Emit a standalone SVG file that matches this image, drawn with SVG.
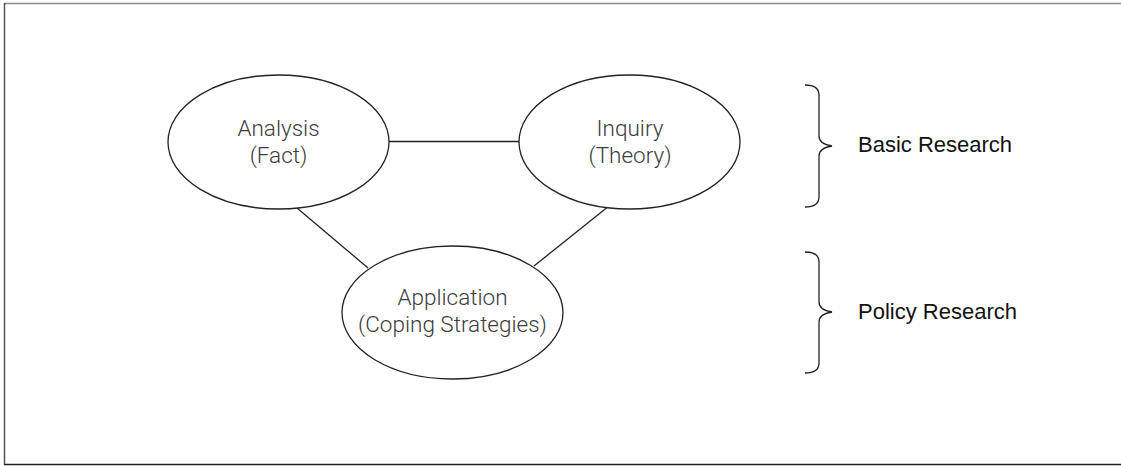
<svg xmlns="http://www.w3.org/2000/svg" width="1121" height="466" viewBox="0 0 1121 466">
<style>
.node ellipse{fill:#fff;stroke:#222;stroke-width:1.3}
.node text{font-family:Roboto,"Liberation Sans",sans-serif;font-weight:300;font-size:22.5px;fill:#3c3c3c;text-anchor:middle}
.conn line{stroke:#222;stroke-width:1.3}
.brace{fill:none;stroke:#222;stroke-width:1.3}
.label{font-family:"Liberation Sans",Arial,sans-serif;font-size:22px;fill:#111}
</style>
<rect width="1121" height="466" fill="#fff"/>
<g id="frame">
<line x1="4" y1="3.5" x2="1121" y2="3.5" stroke="#888" stroke-width="1.5"/>
<line x1="4.5" y1="3" x2="4.5" y2="465" stroke="#555" stroke-width="1.5"/>
<line x1="4" y1="464.5" x2="1121" y2="464.5" stroke="#222" stroke-width="1.5"/>
</g>
<g id="connectors" class="conn">
<line x1="389" y1="141.5" x2="519" y2="141.5"/>
<line x1="297" y1="208" x2="368" y2="268"/>
<line x1="609" y1="206" x2="534" y2="266"/>
</g>
<g id="analysis" class="node">
<ellipse cx="278.5" cy="142" rx="110.5" ry="67"/>
<text x="278.5" y="136">Analysis</text>
<text x="278.5" y="163">(Fact)</text>
</g>
<g id="inquiry" class="node">
<ellipse cx="629.5" cy="142" rx="110.5" ry="67"/>
<text x="630" y="136">Inquiry</text>
<text x="630" y="163">(Theory)</text>
</g>
<g id="application" class="node">
<ellipse cx="452.5" cy="312.5" rx="110.5" ry="66.5"/>
<text x="452.5" y="305">Application</text>
<text x="452.5" y="332">(Coping Strategies)</text>
</g>
<g id="basic-research">
<path class="brace" d="M805,85 Q819,85 819,95 L819,136 Q819,144 832,146 Q819,148 819,156 L819,197 Q819,207 805,207"/>
<text class="label" x="858" y="152">Basic Research</text>
</g>
<g id="policy-research">
<path class="brace" d="M805,252 Q819,252 819,262 L819,302 Q819,310 832,312 Q819,314 819,322 L819,363 Q819,373 805,373"/>
<text class="label" x="858" y="319">Policy Research</text>
</g>
</svg>
